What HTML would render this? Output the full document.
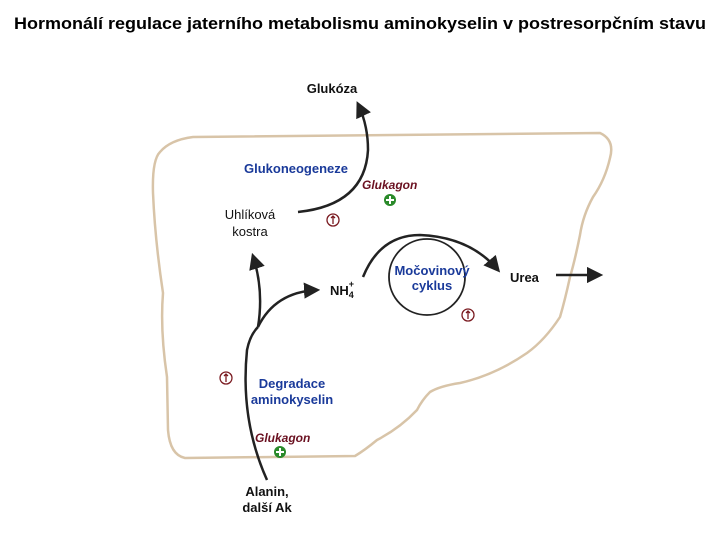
<!DOCTYPE html>
<html><head><meta charset="utf-8"><style>
html,body{margin:0;padding:0;background:#fff;}
svg{display:block;font-family:"Liberation Sans",sans-serif;}
</style></head><body>
<svg width="720" height="540" viewBox="0 0 720 540" xmlns="http://www.w3.org/2000/svg">
<defs>
<marker id="ah" viewBox="0 0 10 10" refX="8" refY="5" markerWidth="6.5" markerHeight="6.5" orient="auto-start-reverse" markerUnits="strokeWidth">
<path d="M0,0 L10,5 L0,10 z" fill="#222"/></marker>
</defs>
<text x="14" y="29" font-size="17" font-weight="bold" textLength="692" lengthAdjust="spacingAndGlyphs">Hormonálí regulace jaterního metabolismu aminokyselin v postresorpčním stavu</text>
<path d="M193,137 L600,133 Q615,140 610,158 Q605,180 593,197 Q583,215 580,235 Q575,260 570,277 Q565,300 560,317 Q545,340 527,353 Q495,375 460,383 Q440,386 430,392 Q422,400 417,410 Q400,428 377,440 Q365,450 355,456 L185,458 Q170,455 168,430 L167,377 Q160,330 163,293 Q155,240 153,193 Q152,160 160,152 Q170,140 193,137 Z" fill="none" stroke="#d8c4a8" stroke-width="2.5"/>
<path d="M298,212 Q365,205 368,150 Q368,125 358,104" fill="none" stroke="#222" stroke-width="2.5" marker-end="url(#ah)"/>
<path d="M267,480 Q240,420 247,350 Q250,335 258,327" fill="none" stroke="#222" stroke-width="2.5"/>
<path d="M258,327 Q264,290 253,256" fill="none" stroke="#222" stroke-width="2.5" marker-end="url(#ah)"/>
<path d="M258,327 Q275,292 317,290" fill="none" stroke="#222" stroke-width="2.5" marker-end="url(#ah)"/>
<circle cx="427" cy="277" r="38" fill="none" stroke="#222" stroke-width="1.8"/>
<path d="M363,277 Q380,235 420,235 Q470,237 498,270" fill="none" stroke="#222" stroke-width="2.5" marker-end="url(#ah)"/>
<line x1="556" y1="275" x2="600" y2="275" stroke="#222" stroke-width="2.5" marker-end="url(#ah)"/>
<g font-weight="bold" font-size="13" fill="#111">
<text x="332" y="93" text-anchor="middle">Glukóza</text>
<text x="510" y="282">Urea</text>
<text x="330" y="295">NH<tspan font-size="9" dy="3">4</tspan><tspan font-size="9" dx="-5" dy="-11">+</tspan></text>
<text x="267" y="496" text-anchor="middle">Alanin,</text>
<text x="267" y="512" text-anchor="middle">další Ak</text>
</g>
<g font-size="13" fill="#111" text-anchor="middle">
<text x="250" y="219">Uhlíková</text>
<text x="250" y="236">kostra</text>
</g>
<g font-weight="bold" font-size="13" fill="#1a3a9a" text-anchor="middle">
<text x="296" y="173">Glukoneogeneze</text>
<text x="432" y="275">Močovinový</text>
<text x="432" y="290">cyklus</text>
<text x="292" y="388">Degradace</text>
<text x="292" y="404">aminokyselin</text>
</g>
<g font-weight="bold" font-style="italic" font-size="12" fill="#6a1020">
<text x="362" y="189">Glukagon</text>
<text x="255" y="442">Glukagon</text>
</g>
<g fill="#2a8a2a">
<circle cx="390" cy="200" r="6"/><circle cx="280" cy="452" r="6"/>
</g>
<g stroke="#fff" stroke-width="2">
<path d="M386,200 h8 M390,196 v8"/><path d="M276,452 h8 M280,448 v8"/>
</g>
<g fill="none" stroke="#7a1a20" stroke-width="1.3">
<circle cx="333" cy="220" r="6"/><path d="M333,224 v-8 M331,218 l2,-2 l2,2"/>
<circle cx="468" cy="315" r="6"/><path d="M468,319 v-8 M466,313 l2,-2 l2,2"/>
<circle cx="226" cy="378" r="6"/><path d="M226,382 v-8 M224,376 l2,-2 l2,2"/>
</g>
</svg>
</body></html>
